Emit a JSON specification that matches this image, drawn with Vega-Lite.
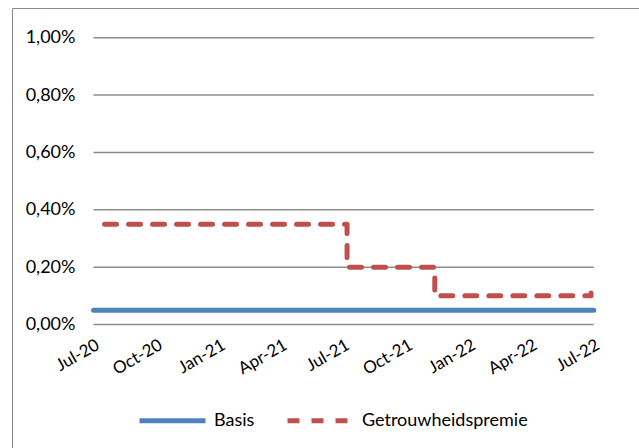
{
  "$schema": "https://vega.github.io/schema/vega-lite/v6.json",
  "width": 627,
  "height": 440,
  "autosize": {"type": "none"},
  "padding": {"left": 12, "top": 8, "right": 0, "bottom": 0},
  "background": "white",
  "config": {
    "view": {"stroke": "#898989", "strokeWidth": 1},
    "font": "Lato",
    "axis": {"labelFont": "Lato", "labelColor": "#000000"},
    "legend": {"labelFont": "Lato", "labelColor": "#000000"}
  },
  "datasets": {
    "grid": [
      {"date": "2020-07-01", "date2": "2022-07-01", "value": 0},
      {"date": "2020-07-01", "date2": "2022-07-01", "value": 0.2},
      {"date": "2020-07-01", "date2": "2022-07-01", "value": 0.4},
      {"date": "2020-07-01", "date2": "2022-07-01", "value": 0.6},
      {"date": "2020-07-01", "date2": "2022-07-01", "value": 0.8},
      {"date": "2020-07-01", "date2": "2022-07-01", "value": 1.0}
    ],
    "rates": [
      {"series": "Basis", "date": "2020-07-01", "value": 0.05},
      {"series": "Basis", "date": "2022-07-01", "value": 0.05},
      {"series": "Getrouwheidspremie", "date": "2020-07-01", "value": 0.35},
      {"series": "Getrouwheidspremie", "date": "2021-07-06", "value": 0.2},
      {"series": "Getrouwheidspremie", "date": "2021-11-11", "value": 0.1},
      {"series": "Getrouwheidspremie", "date": "2022-06-27", "value": 0.11}
    ]
  },
  "encoding": {
    "x": {
      "field": "date",
      "type": "temporal",
      "scale": {
        "type": "utc",
        "domain": [
          {"year": 2020, "month": 3, "date": 4, "utc": true},
          {"year": 2022, "month": 9, "date": 5, "utc": true}
        ]
      },
      "axis": {
        "values": [
          {"year": 2020, "month": 7, "date": 1, "utc": true},
          {"year": 2020, "month": 10, "date": 1, "utc": true},
          {"year": 2021, "month": 1, "date": 1, "utc": true},
          {"year": 2021, "month": 4, "date": 1, "utc": true},
          {"year": 2021, "month": 7, "date": 1, "utc": true},
          {"year": 2021, "month": 10, "date": 1, "utc": true},
          {"year": 2022, "month": 1, "date": 1, "utc": true},
          {"year": 2022, "month": 4, "date": 1, "utc": true},
          {"year": 2022, "month": 7, "date": 1, "utc": true}
        ],
        "labelExpr": "utcFormat(datum.value, '%b-%y')",
        "labelAngle": -30,
        "labelAlign": "right",
        "labelBaseline": "top",
        "labelFontSize": 17,
        "labelPadding": 12,
        "labelDx": -8,
        "labelOverlap": false,
        "labelFlush": false,
        "offset": -123.5,
        "ticks": false,
        "domain": false,
        "grid": false,
        "title": null
      }
    },
    "y": {
      "field": "value",
      "type": "quantitative",
      "scale": {"domain": [-0.4306, 1.1036], "nice": false, "zero": false},
      "axis": {
        "values": [0, 0.2, 0.4, 0.6, 0.8, 1.0],
        "labelExpr": "replace(format(datum.value, '.2f'), '.', ',') + '%'",
        "labelFontSize": 18,
        "labelPadding": 0,
        "labelFlush": false,
        "offset": -63,
        "ticks": false,
        "domain": false,
        "grid": false,
        "title": null
      }
    }
  },
  "layer": [
    {
      "data": {"name": "grid"},
      "mark": {"type": "rule", "color": "#8c8c8c", "strokeWidth": 1.5},
      "encoding": {"x2": {"field": "date2"}}
    },
    {
      "data": {"name": "rates"},
      "mark": {"type": "line", "interpolate": "step-after", "strokeWidth": 5, "strokeCap": "round", "strokeJoin": "round", "strokeDashOffset": 13},
      "encoding": {
        "color": {
          "field": "series",
          "type": "nominal",
          "scale": {"domain": ["Basis", "Getrouwheidspremie"], "range": ["#4F81BD", "#C0504D"]},
          "legend": {
            "orient": "none",
            "legendX": 125,
            "legendY": 377,
            "direction": "horizontal",
            "title": null,
            "symbolType": "stroke",
            "symbolSize": 4356,
            "symbolStrokeWidth": 5,
            "labelFontSize": 18,
            "labelLimit": 0,
            "labelOffset": 6,
            "columnPadding": 22
          }
        },
        "strokeDash": {
          "field": "series",
          "type": "nominal",
          "scale": {"domain": ["Basis", "Getrouwheidspremie"], "range": [[1, 0], [12, 12]]},
          "legend": {
            "orient": "none",
            "legendX": 125,
            "legendY": 377,
            "direction": "horizontal",
            "title": null,
            "symbolType": "stroke",
            "symbolSize": 4356,
            "symbolStrokeWidth": 5,
            "labelFontSize": 18,
            "labelLimit": 0,
            "labelOffset": 6,
            "columnPadding": 22
          }
        }
      }
    }
  ]
}
